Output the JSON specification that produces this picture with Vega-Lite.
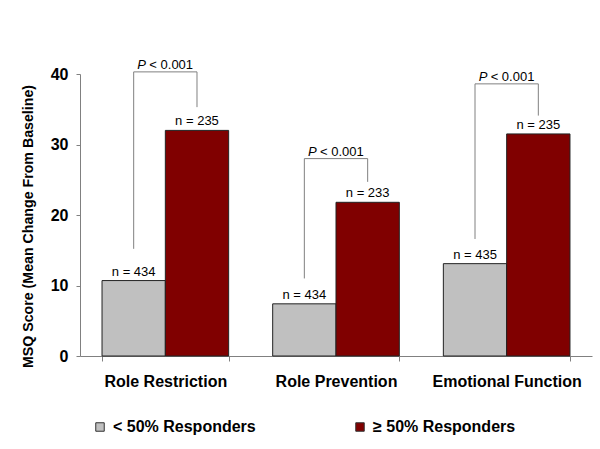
{
  "$schema": "https://vega.github.io/schema/vega-lite/v6.json",
  "autosize": {"type": "none"},
  "width": 512,
  "height": 282,
  "padding": {"left": 80, "top": 74, "right": 8, "bottom": 93},
  "background": "white",
  "config": {
    "view": {"stroke": null},
    "font": "Liberation Sans",
    "axis": {"grid": false, "domainColor": "#808080", "tickColor": "#808080", "labelColor": "black", "titleColor": "black"}
  },
  "datasets": {
    "bars": [
      {"measure": "Role Restriction", "group": "< 50% Responders", "value": 10.7, "n": "n = 434"},
      {"measure": "Role Restriction", "group": "≥ 50% Responders", "value": 32.0, "n": "n = 235"},
      {"measure": "Role Prevention", "group": "< 50% Responders", "value": 7.4, "n": "n = 434"},
      {"measure": "Role Prevention", "group": "≥ 50% Responders", "value": 21.8, "n": "n = 233"},
      {"measure": "Emotional Function", "group": "< 50% Responders", "value": 13.1, "n": "n = 435"},
      {"measure": "Emotional Function", "group": "≥ 50% Responders", "value": 31.5, "n": "n = 235"}
    ],
    "brackets": [
      {"measure": "Role Restriction", "group": "< 50% Responders", "y": 15.2, "ord": 1},
      {"measure": "Role Restriction", "group": "< 50% Responders", "y": 40.3, "ord": 2},
      {"measure": "Role Restriction", "group": "≥ 50% Responders", "y": 40.3, "ord": 3},
      {"measure": "Role Restriction", "group": "≥ 50% Responders", "y": 35.3, "ord": 4},
      {"measure": "Role Prevention", "group": "< 50% Responders", "y": 11.0, "ord": 1},
      {"measure": "Role Prevention", "group": "< 50% Responders", "y": 28.0, "ord": 2},
      {"measure": "Role Prevention", "group": "≥ 50% Responders", "y": 28.0, "ord": 3},
      {"measure": "Role Prevention", "group": "≥ 50% Responders", "y": 24.7, "ord": 4},
      {"measure": "Emotional Function", "group": "< 50% Responders", "y": 16.6, "ord": 1},
      {"measure": "Emotional Function", "group": "< 50% Responders", "y": 38.6, "ord": 2},
      {"measure": "Emotional Function", "group": "≥ 50% Responders", "y": 38.6, "ord": 3},
      {"measure": "Emotional Function", "group": "≥ 50% Responders", "y": 34.1, "ord": 4}
    ],
    "pvals": [
      {"measure": "Role Restriction", "y": 40.3},
      {"measure": "Role Prevention", "y": 28.0},
      {"measure": "Emotional Function", "y": 38.6}
    ]
  },
  "encoding": {
    "x": {
      "field": "measure", "type": "nominal",
      "sort": ["Role Restriction", "Role Prevention", "Emotional Function"],
      "scale": {"paddingInner": 0.258, "paddingOuter": 0.129},
      "axis": {"title": null, "labelAngle": 0, "tickBand": "extent", "tickSize": 5, "labelPadding": 12, "labelFontSize": 16, "labelFontWeight": "bold"}
    }
  },
  "layer": [
    {
      "data": {"name": "bars"},
      "mark": {"type": "bar", "stroke": "#222222", "strokeWidth": 1},
      "encoding": {
        "xOffset": {"field": "group", "type": "nominal", "sort": ["< 50% Responders", "≥ 50% Responders"], "scale": {"paddingInner": 0, "paddingOuter": 0}},
        "y": {
          "field": "value", "type": "quantitative",
          "scale": {"domain": [0, 40]},
          "axis": {"values": [0, 10, 20, 30, 40], "title": "MSQ Score (Mean Change From Baseline)", "titleFontSize": 14.2, "titleFontWeight": "bold", "titleX": -52, "titleY": 152, "titleAngle": 270, "titleAlign": "center", "titleBaseline": "middle", "tickSize": 4, "labelPadding": 8, "labelFontSize": 16, "labelFontWeight": "bold"}
        },
        "color": {
          "field": "group", "type": "nominal",
          "scale": {"domain": ["< 50% Responders", "≥ 50% Responders"], "range": ["#c0c0c0", "#800000"]},
          "legend": {"title": null, "orient": "none", "direction": "horizontal", "legendX": 12, "legendY": 345, "padding": 0, "symbolType": "square", "symbolSize": 72, "symbolStrokeColor": "#333333", "symbolStrokeWidth": 1, "symbolOpacity": 1, "labelFontSize": 16, "labelFontWeight": "bold", "labelColor": "black", "labelOffset": 5, "columnPadding": 96, "labelLimit": 300}
        }
      }
    },
    {
      "data": {"name": "bars"},
      "mark": {"type": "text", "baseline": "alphabetic", "dy": -5, "fontSize": 13, "color": "black"},
      "encoding": {
        "xOffset": {"field": "group", "type": "nominal", "sort": ["< 50% Responders", "≥ 50% Responders"]},
        "y": {"field": "value", "type": "quantitative"},
        "text": {"field": "n"}
      }
    },
    {
      "data": {"name": "brackets"},
      "mark": {"type": "line", "color": "#808080", "strokeWidth": 1},
      "encoding": {
        "xOffset": {"field": "group", "type": "nominal", "sort": ["< 50% Responders", "≥ 50% Responders"]},
        "y": {"field": "y", "type": "quantitative"},
        "order": {"field": "ord", "type": "quantitative"},
        "detail": {"field": "measure"}
      }
    },
    {
      "data": {"name": "pvals"},
      "mark": {"type": "text", "baseline": "alphabetic", "align": "left", "dx": -28, "dy": -3, "fontSize": 13, "fontStyle": "italic", "color": "black"},
      "encoding": {
        "y": {"field": "y", "type": "quantitative"},
        "text": {"value": "P"}
      }
    },
    {
      "data": {"name": "pvals"},
      "mark": {"type": "text", "baseline": "alphabetic", "align": "left", "dx": -16, "dy": -3, "fontSize": 13, "color": "black"},
      "encoding": {
        "y": {"field": "y", "type": "quantitative"},
        "text": {"value": "< 0.001"}
      }
    }
  ]
}
